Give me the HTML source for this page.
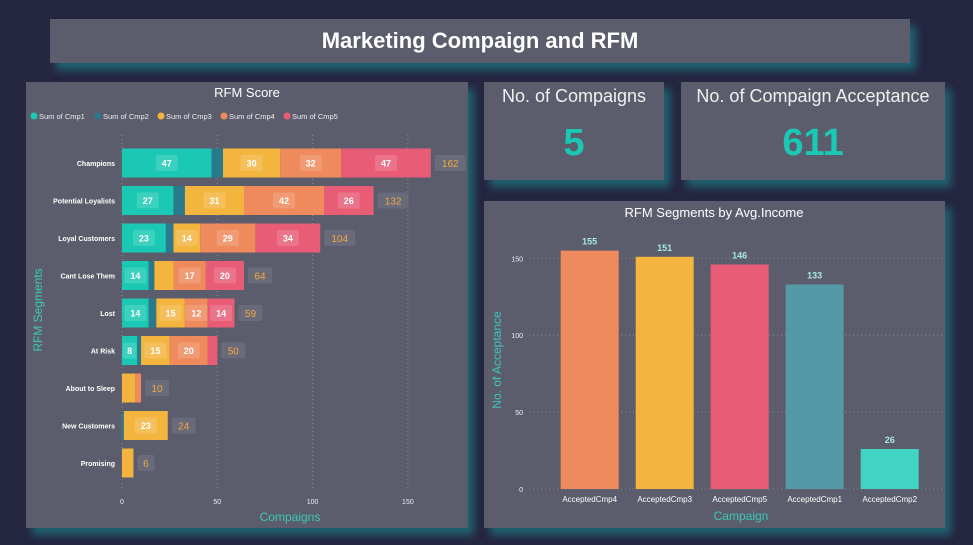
<!DOCTYPE html>
<html><head><meta charset="utf-8"><style>
body{margin:0;width:973px;height:545px;background:#252640;overflow:hidden;font-family:"Liberation Sans","DejaVu Sans",sans-serif;position:relative}
.p{position:absolute;background:#5c5d6c;box-shadow:6px 7px 8px rgba(30,120,130,0.75)}
.kt{position:absolute;left:0;right:0;text-align:center;color:#f0f0f0;font-size:18px;top:4px}
.kv{position:absolute;left:0;right:0;text-align:center;color:#1ac8b4;font-size:38px;font-weight:bold;top:40px}
svg text{font-family:"Liberation Sans","DejaVu Sans",sans-serif}
</style></head><body>
<div class="p" style="left:50px;top:19px;width:860px;height:44px">
<div style="text-align:center;color:#fff;font-size:22px;font-weight:bold;line-height:44px">Marketing Compaign and RFM</div></div>
<div class="p" style="left:26px;top:82px;width:442px;height:446px"></div>
<div class="p" style="left:484px;top:82px;width:180px;height:98px">
<div class="kt">No. of Compaigns</div><div class="kv">5</div></div>
<div class="p" style="left:681px;top:82px;width:264px;height:98px">
<div class="kt">No. of Compaign Acceptance</div><div class="kv">611</div></div>
<div class="p" style="left:484px;top:201px;width:461px;height:327px"></div>
<svg id="s" width="973" height="545" style="position:absolute;left:0;top:0"></svg>
<script>
const segments=["Champions","Potential Loyalists","Loyal Customers","Cant Lose Them","Lost","At Risk","About to Sleep","New Customers","Promising"];
const cmp1=[47,27,23,14,14,8,0,0,0];
const cmp2=[6,6,4,3,4,2,0,1,0];
const cmp3=[30,31,14,10,15,15,7,23,6];
const cmp4=[32,42,29,17,12,20,3,0,0];
const cmp5=[47,26,34,20,14,5,0,0,0];
const xTicks=[0,50,100,150];
const campaigns=["AcceptedCmp4","AcceptedCmp3","AcceptedCmp5","AcceptedCmp1","AcceptedCmp2"];
const acceptance=[155,151,146,133,26];
const yTicks=[0,50,100,150];
const NS="http://www.w3.org/2000/svg",s=document.getElementById('s');
function el(t,a,txt){const e=document.createElementNS(NS,t);for(const k in a)e.setAttribute(k,a[k]);if(txt!==undefined)e.textContent=txt;s.appendChild(e);return e;}
// left chart
const X=v=>122+v*1.906, Y=i=>163+i*37.5;
let t=el('text',{x:247,y:97,'text-anchor':'middle',fill:'#fff','font-size':13});
t.textContent='RFM Score';
const cols=['#1ac8b4','#287a8c','#f4b53f','#ee8a5c','#e85c76'];
const leg=[["Sum of Cmp1",31],["Sum of Cmp2",95],["Sum of Cmp3",158],["Sum of Cmp4",221],["Sum of Cmp5",284]];
leg.forEach((l,i)=>{const g=el('g',{});
const c=document.createElementNS(NS,'circle');c.setAttribute('cx',l[1]+3);c.setAttribute('cy',116);c.setAttribute('r',3.5);c.setAttribute('fill',cols[i]);g.appendChild(c);
const tt=document.createElementNS(NS,'text');tt.setAttribute('x',l[1]+8);tt.setAttribute('y',119);tt.setAttribute('fill','#eee');tt.setAttribute('font-size',7.5);tt.textContent=l[0];g.appendChild(tt);});
xTicks.forEach(v=>{let g=el('line',{x1:X(v),x2:X(v),y1:135,y2:490,stroke:'#8a8b98','stroke-dasharray':'1,3'});
let tl=el('text',{x:X(v),y:504,'text-anchor':'middle',fill:'#eee','font-size':7},v);});
const series=[cmp1,cmp2,cmp3,cmp4,cmp5];
segments.forEach((sg,i)=>{const y=Y(i);let lb=el('text',{x:115,y:y+3,'text-anchor':'end',fill:'#fff','font-size':7,'font-weight':'bold'},sg);

let acc=0;series.forEach((sr,k)=>{const v=sr[i];if(!v)return;const r=el('rect',{x:X(acc),y:y-14.5,width:X(acc+v)-X(acc),height:29,fill:cols[k]});

if(k!==1&&v>=8&&!(k===2&&i===3)){const cx=(X(acc)+X(acc+v))/2;const w=v>=10?22:14;el('rect',{x:cx-w/2,y:y-8,width:w,height:16,rx:2,fill:'rgba(255,255,255,0.15)'});
let vt=el('text',{x:cx,y:y+3.5,'text-anchor':'middle',fill:'#fff','font-size':9,'font-weight':'bold'},v);}
acc+=v;});
const tx=X(acc)+4,w=String(acc).length*7+10;el('rect',{x:tx,y:y-8,width:w,height:16,rx:2,fill:'#6a6b7a'});
let tv=el('text',{x:tx+w/2,y:y+4,'text-anchor':'middle',fill:'#f4a83f','font-size':10},acc);});
let xa=el('text',{x:290,y:521,'text-anchor':'middle',fill:'#3cc8b8','font-size':12},'Compaigns');
let ya=el('text',{x:0,y:0,'text-anchor':'middle',fill:'#3cc8b8','font-size':12,transform:'translate(42,310) rotate(-90)'},'RFM Segments');
// right chart
const BX=i=>560.7+i*75, BY=v=>489-v*1.538;
let rt=el('text',{x:714,y:217,'text-anchor':'middle',fill:'#fff','font-size':13},'RFM Segments by Avg.Income');
yTicks.forEach(v=>{let g=el('line',{x1:529,x2:945,y1:BY(v),y2:BY(v),stroke:'#8a8b98','stroke-dasharray':'1,3'});
let tl=el('text',{x:523,y:BY(v)+3,'text-anchor':'end',fill:'#eee','font-size':7},v);});
const bcols=['#ee8a5c','#f4b53f','#e85c76','#5499a5','#42d4c2'];
campaigns.forEach((c,i)=>{const v=acceptance[i];let b=el('rect',{x:BX(i),y:BY(v),width:58,height:BY(0)-BY(v),fill:bcols[i]});
let vt=el('text',{x:BX(i)+29,y:BY(v)-6,'text-anchor':'middle',fill:'#a8e8e0','font-size':9,'font-weight':'bold'},v);
let cl=el('text',{x:BX(i)+29,y:502,'text-anchor':'middle',fill:'#fff','font-size':8},c);});
let rx=el('text',{x:741,y:520,'text-anchor':'middle',fill:'#3cc8b8','font-size':12},'Campaign');
let ry=el('text',{x:0,y:0,'text-anchor':'middle',fill:'#3cc8b8','font-size':12,transform:'translate(501,360) rotate(-90)'},'No. of Acceptance');
</script>
</body></html>
